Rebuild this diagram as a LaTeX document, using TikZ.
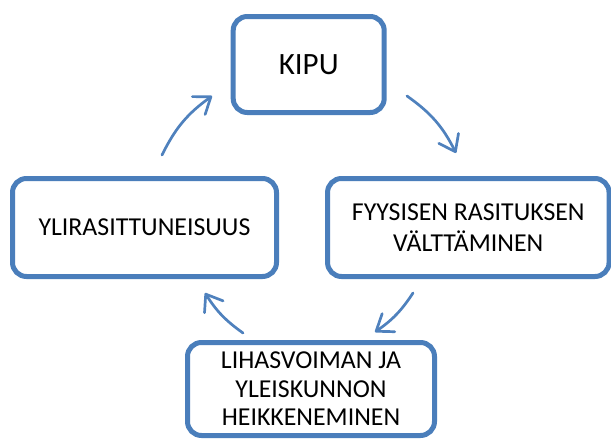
\documentclass[tikz,border=0pt]{standalone}
\usepackage{fontspec}
\setmainfont{Carlito}
\usetikzlibrary{arrows.meta}
\definecolor{boxblue}{RGB}{74,126,187}
\definecolor{arrowblue}{RGB}{79,129,189}
\begin{document}
\begin{tikzpicture}[x=1pt,y=-1pt,
  stagebox/.style={draw=boxblue, line width=5pt, rounded corners=14pt, fill=white,
    align=center, text=black, inner sep=0pt},
  bodytext/.style={font=\fontsize{25.8}{28.4}\selectfont},
  cyclearrow/.style={draw=arrowblue, line width=2.7pt, line cap=round,
    -{Straight Barb[length=15pt,width=22pt,round]}},
]
\useasboundingbox (0,0) rectangle (611,439);

% the four stages of the cycle
\node[stagebox, minimum width=151pt, minimum height=96pt,
  font=\fontsize{31}{36}\selectfont] (kipu) at (308.7,64.5) {KIPU};
\node[stagebox, minimum width=281.5pt, minimum height=98pt,
  font=\fontsize{25.8}{31.7}\selectfont] (valtt) at (468.3,227.5)
  {FYYSISEN RASITUKSEN\\VÄLTTÄMINEN};
\node[stagebox, bodytext, minimum width=247pt, minimum height=93pt] (heikk) at (311,389)
  {LIHASVOIMAN JA\\YLEISKUNNON\\HEIKKENEMINEN};
\node[stagebox, bodytext, minimum width=264pt, minimum height=98pt] (ylir) at (144.5,227.5)
  {YLIRASITTUNEISUUS};

% arrow ends between the stages
\coordinate (a1s) at (162,155); \coordinate (a1e) at (212,96);
\coordinate (a2s) at (407,96);  \coordinate (a2e) at (456,153);
\coordinate (a3s) at (413,293); \coordinate (a3e) at (375,332);
\coordinate (a4s) at (243,333); \coordinate (a4e) at (205,293);

\draw[cyclearrow] (a1s) to[bend left=14] (a1e);
\draw[cyclearrow] (a2s) to[bend left=14] (a2e);
\draw[cyclearrow] (a3s) to[bend left=11] (a3e);
\draw[cyclearrow] (a4s) to[bend left=11] (a4e);
\end{tikzpicture}
\end{document}
